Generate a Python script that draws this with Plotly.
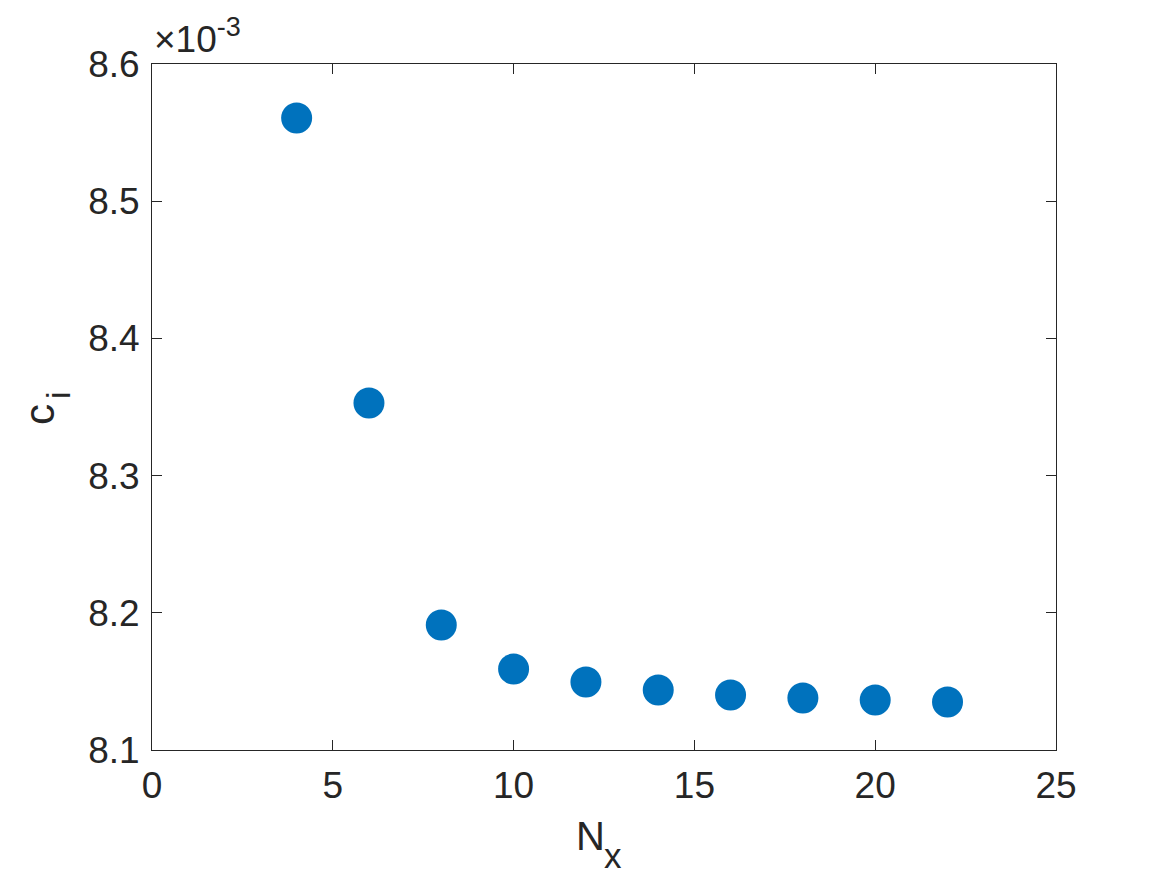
import plotly.graph_objects as go

# Data
nx = [4, 6, 8, 10, 12, 14, 16, 18, 20, 22]
ci = [8.5606e-3, 8.3529e-3, 8.1911e-3, 8.1590e-3, 8.1496e-3,
      8.1437e-3, 8.1401e-3, 8.1379e-3, 8.1364e-3, 8.1350e-3]
x_ticks = [0, 5, 10, 15, 20, 25]
y_ticks = [8.1e-3, 8.2e-3, 8.3e-3, 8.4e-3, 8.5e-3, 8.6e-3]
y_ticklabels = ["8.1", "8.2", "8.3", "8.4", "8.5", "8.6"]

fg = "#262626"
font = "Liberation Sans, Arial, sans-serif"

fig = go.Figure()
fig.add_trace(go.Scatter(
    x=nx, y=ci, mode="markers",
    marker=dict(size=31, color="#0072BD", line=dict(width=0)),
    showlegend=False,
))

axis_common = dict(
    showline=True, linecolor=fg, linewidth=1, mirror="ticks",
    ticks="inside", ticklen=10, tickcolor=fg, tickwidth=1,
    showgrid=False, zeroline=False,
    tickfont=dict(family=font, size=37, color=fg),
)

# plot area in pixels (page): x 152..1056, y 64..750
def px_x(p):
    return (p - 152) / 904.0

def px_y(p):
    return (750 - p) / 686.0

def ann(text, x, y, size, angle=0):
    return dict(text=text, xref="paper", yref="paper", x=px_x(x), y=px_y(y),
                xanchor="center", yanchor="middle", showarrow=False,
                textangle=angle, font=dict(family=font, size=size, color=fg))

fig.update_layout(
    width=1167, height=875,
    paper_bgcolor="white", plot_bgcolor="white",
    margin=dict(l=144, r=119, t=56, b=133),
    xaxis=dict(range=[0, 25], tickvals=x_ticks, ticklabelstandoff=3, **axis_common),
    yaxis=dict(range=[8.1e-3, 8.6e-3], tickvals=y_ticks, ticktext=y_ticklabels,
               ticklabelstandoff=4, **axis_common),
    annotations=[
        ann("N", 590, 836, 40),
        ann("x", 613, 855, 35),
        ann("c", 40, 415, 42, -90),
        ann("i", 58, 395, 34, -90),
        dict(text="×10<sup><span style='font-size:27px'>-3</span></sup>",
             xref="paper", yref="paper", x=px_x(152), y=px_y(62),
             xanchor="left", yanchor="bottom", showarrow=False,
             font=dict(family=font, size=37, color=fg)),
    ],
)

fig.write_html("out.html")
